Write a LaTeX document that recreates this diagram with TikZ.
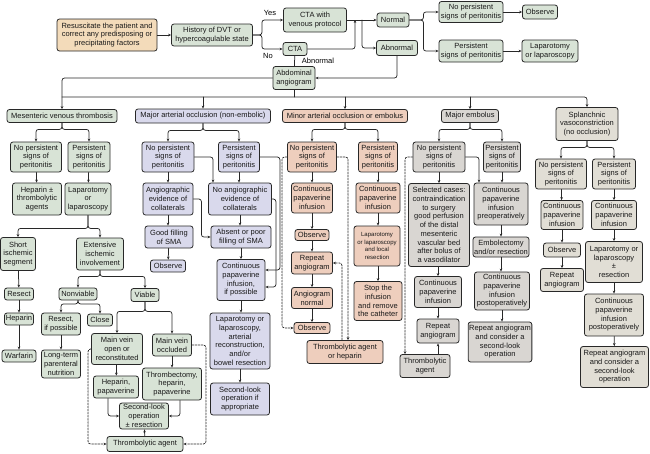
\documentclass[tikz,border=0pt]{standalone}
\usepackage{fontspec}
\setmainfont{Liberation Sans}
\usetikzlibrary{arrows.meta}
\definecolor{peach}{RGB}{243,219,186}
\definecolor{greenfill}{RGB}{216,227,214}
\definecolor{lavfill}{RGB}{217,217,236}
\definecolor{pinkfill}{RGB}{238,206,189}
\definecolor{grayfill}{RGB}{217,214,210}
\definecolor{sandfill}{RGB}{225,222,213}
\definecolor{boxline}{RGB}{40,40,40}
\begin{document}
\begin{tikzpicture}[x=1pt, y=-1pt, font=\fontsize{7.5}{8.7}\selectfont, line join=round, line cap=round,
    >={Stealth[length=3pt,width=2.6pt]},
    box/.style={draw=boxline, line width=0.8pt, rounded corners=2.5pt, align=center, inner sep=1pt, text=black!90},
    wh/.style 2 args={minimum width=#1, minimum height=#2},
    pbox/.style={box, fill=peach}, gbox/.style={box, fill=greenfill}, lbox/.style={box, fill=lavfill},
    rbox/.style={box, fill=pinkfill}, ebox/.style={box, fill=grayfill}, sbox/.style={box, fill=sandfill},
    conn/.style={->, draw=boxline, line width=0.75pt, rounded corners=2.5pt},
    dconn/.style={conn, dash pattern=on 1.8pt off 1.3pt}]
\useasboundingbox (0,0) rectangle (650,453);
% top of the chart
\node[pbox, wh={100}{32}] (resus) at (107,35) {Resuscitate the patient and\\correct any predisposing or\\precipitating factors};
\node[gbox, wh={81}{22}] (hist) at (212,35) {History of DVT or\\hypercoagulable state};
\node[gbox, wh={63}{24}] (ctav) at (315,20) {CTA with\\venous protocol};
\node[gbox, wh={24}{13}] (cta) at (295,49) {CTA};
\node[gbox, wh={42}{23}] (angio) at (294,78) {Abdominal\\angiogram};
\node[gbox, wh={32}{14}] (normal) at (393,20) {Normal};
\node[gbox, wh={41}{15}] (abn) at (397,48) {Abnormal};
\node[gbox, wh={64}{21}] (tnops) at (471,12) {No persistent\\signs of peritonitis};
\node[gbox, wh={64}{22}] (tps) at (471,51) {Persistent\\signs of peritonitis};
\node[gbox, wh={35}{14}] (tobs) at (540,12) {Observe};
\node[gbox, wh={56}{22}] (tlap) at (550,51) {Laparotomy\\or laparoscopy};
\node (yes) at (270,13) {Yes};
\node (no) at (268,56) {No};
\node (abnlab) at (318,61) {Abnormal};
\coordinate (j1) at (355,20);
\coordinate (j2) at (362,20);
\coordinate (bus) at (294,97);
\draw[conn] (resus) -- (hist);
\draw[conn] (hist.east) -- ++(9,0) |- (ctav.west);
\draw[conn] (hist.east) -- ++(9,0) |- (cta.west);
\draw[conn] (cta.east) -| (j1);
\draw[conn] (ctav) -- (normal);
\draw[conn] (j2) |- (abn.west);
\draw[conn] (abn.south) |- (angio.east);
\draw[line width=0.75pt, draw=boxline] (cta) -- (angio);
\draw[conn] (normal.east) -- ++(14,0) |- (tnops.west);
\draw[conn] (normal.east) -- ++(14,0) |- (tps.west);
\draw[conn] (tnops) -- (tobs);
\draw[conn] (tps) -- (tlap);
% five groups
\node[gbox, wh={110}{13}] (mvt) at (62,116) {Mesenteric venous thrombosis};
\node[lbox, wh={135}{14}] (mao) at (203,116) {Major arterial occlusion (non-embolic)};
\node[rbox, wh={125}{13}] (mio) at (345,116) {Minor arterial occlusion or embolus};
\node[ebox, wh={57}{13}] (mem) at (470,116) {Major embolus};
\node[sbox, wh={62}{33}] (spl) at (587,124) {Splanchnic\\vasoconstriction\\(no occlusion)};
\draw[conn] (angio.west) -| (mvt.north);
\draw[line width=0.75pt, draw=boxline] (angio.south) -- (bus);
\draw[conn] (mvt.north |- bus) -| (spl.north);
\foreach \n in {mao,mio,mem} \draw[conn] (\n.north |- bus) -- (\n.north);
% mesenteric venous thrombosis
\node[gbox, wh={51}{30}] (mvnops) at (36,157) {No persistent\\signs of\\peritonitis};
\node[gbox, wh={42}{30}] (mvps) at (89,157) {Persistent\\signs of\\peritonitis};
\node[gbox, wh={49}{32}] (mvhep) at (37,199) {Heparin ±\\thrombolytic\\agents};
\node[gbox, wh={46}{32}] (mvlap) at (88,199) {Laparotomy\\or\\laparoscopy};
\node[gbox, wh={35}{33}] (mvshort) at (18,254) {Short\\ischemic\\segment};
\node[gbox, wh={47}{32}] (mvext) at (100,254) {Extensive\\ischemic\\involvement};
\node[gbox, wh={29}{12}] (mvres) at (19,294) {Resect};
\node[gbox, wh={29}{12}] (mvhep2) at (19,319) {Heparin};
\node[gbox, wh={34}{12}] (mvwarf) at (19,356) {Warfarin};
\node[gbox, wh={38}{12}] (mvnonv) at (78,294) {Nonviable};
\node[gbox, wh={28}{13}] (mvviab) at (145,295) {Viable};
\node[gbox, wh={39}{22}] (mvrip) at (61,324) {Resect,\\if possible};
\node[gbox, wh={25}{12}] (mvclose) at (100,320) {Close};
\node[gbox, wh={39}{28}] (mvltpn) at (61,364) {Long-term\\parenteral\\nutrition};
\node[gbox, wh={51}{31}] (mvopen) at (117,349) {Main vein\\open or\\reconstituted};
\node[gbox, wh={39}{22}] (mvocc) at (172,345) {Main vein\\occluded};
\node[gbox, wh={45}{22}] (mvhp) at (116,387) {Heparin,\\papaverine};
\node[gbox, wh={59}{32}] (mvthr) at (172,384) {Thrombectomy,\\heparin,\\papaverine};
\node[gbox, wh={49}{26}] (mvsec) at (144,416) {Second-look\\operation\\± resection};
\node[gbox, wh={76}{15}] (mvtla) at (145,444) {Thrombolytic agent};
\draw[conn] (mvt.south) -- ++(0,6.5) -| (mvnops.north);
\draw[conn] (mvt.south) -- ++(0,6.5) -| (mvps.north);
\draw[conn] (mvnops) -- (mvhep);
\draw[conn] (mvps) -- (mvlap);
\draw[conn] (mvlap.south) -- ++(0,13) -| (mvshort.north);
\draw[conn] (mvlap.south) -- ++(0,13) -| (mvext.north);
\draw[conn] (mvshort) -- (mvres);
\draw[conn] (mvres) -- (mvhep2);
\draw[conn] (mvhep2) -- (mvwarf);
\draw[conn] (mvext.south) -- ++(0,6) -| (mvnonv.north);
\draw[conn] (mvext.south) -- ++(0,6) -| (mvviab.north);
\draw[conn] (mvnonv.south) -- ++(0,3.5) -| (mvrip.north);
\draw[conn] (mvnonv.south) -- ++(0,3.5) -| (mvclose.north);
\draw[conn] (mvrip) -- (mvltpn);
\draw[conn] (mvviab.south) -- ++(0,9.5) -| (mvopen.north);
\draw[conn] (mvviab.south) -- ++(0,9.5) -| (mvocc.north);
\draw[conn] (mvopen) -- (mvhp);
\draw[conn] (mvocc) -- (mvthr);
\draw[conn] ([xshift=-8]mvhp.south) |- (mvsec.west);
\draw[conn] ([xshift=8]mvthr.south) |- (mvsec.east);
\draw[conn] (mvtla) -- (mvsec);
\draw[dconn] (mvopen.west) -- ++(-3,0) |- (mvtla.west);
\draw[dconn] (mvocc.east) -- ++(14,0) |- (mvtla.east);
% major arterial occlusion
\node[lbox, wh={52}{30}] (manops) at (168,157) {No persistent\\signs of\\peritonitis};
\node[lbox, wh={41}{30}] (maps) at (239,157) {Persistent\\signs of\\peritonitis};
\node[lbox, wh={50}{32}] (maang) at (168,199) {Angiographic\\evidence of\\collaterals};
\node[lbox, wh={63}{32}] (manoang) at (240,199) {No angiographic\\evidence of\\collaterals};
\node[lbox, wh={48}{22}] (magood) at (169,237) {Good filling\\of SMA};
\node[lbox, wh={60}{22}] (maabs) at (241,237) {Absent or poor\\filling of SMA};
\node[lbox, wh={35}{12}] (maobs) at (168,266) {Observe};
\node[lbox, wh={48}{41}] (macont) at (241,280) {Continuous\\papaverine\\infusion,\\if possible};
\node[lbox, wh={60}{56}] (malap) at (240,341) {Laparotomy or\\laparoscopy,\\arterial\\reconstruction,\\and/or\\bowel resection};
\node[lbox, wh={59}{32}] (masec) at (240,399) {Second-look\\operation if\\appropriate};
\draw[conn] (mao.south) -- ++(0,7) -| (manops.north);
\draw[conn] (mao.south) -- ++(0,7) -| (maps.north);
\draw[conn] (manops) -- (maang);
\draw[conn] (maang) -- (magood.north -| maang);
\draw[conn] (magood) -- (maobs);
\draw[conn] (manops.east) -| ([xshift=-27]manoang.north);
\draw[conn] (maps.south) -- (maps.south |- manoang.north);
\draw[conn] (maang.east) -- ++(8,0) |- (maabs.west);
\draw[conn] (manoang) -- (manoang |- maabs.north);
\draw[conn] (maabs) -- (macont);
\draw[conn] (macont) -- (macont |- malap.north);
\draw[conn] (malap) -- (masec);
\draw[conn] (maps.east) -- ++(20,0) |- ([yshift=10]macont.east);
\draw[conn] (manoang.east) -- ++(4,0) |- ([yshift=-7]macont.east);
% minor arterial occlusion or embolus
\node[rbox, wh={49}{30}] (minops) at (312,157) {No persistent\\signs of\\peritonitis};
\node[rbox, wh={39}{30}] (mips) at (378,157) {Persistent\\signs of\\peritonitis};
\node[rbox, wh={41}{30}] (micont) at (312,198) {Continuous\\papaverine\\infusion};
\node[rbox, wh={44}{30}] (micontb) at (378,198) {Continuous\\papaverine\\infusion};
\node[rbox, wh={34}{11}] (miobs) at (312,235) {Observe};
\node[rbox, wh={41}{22}] (mirep) at (312,263) {Repeat\\angiogram};
\node[rbox, wh={46}{40}, font=\fontsize{6}{7.4}\selectfont] (milap) at (377,246) {Laparotomy\\or laparoscopy\\and local\\resection};
\node[rbox, wh={41}{21}] (mianorm) at (312,298) {Angiogram\\normal};
\node[rbox, wh={36}{11}] (miobsb) at (312,328) {Observe};
\node[rbox, wh={48}{39}] (mistop) at (378,301) {Stop the\\infusion\\and remove\\the catheter};
\node[rbox, wh={76}{23}] (mitla) at (345,352) {Thrombolytic agent\\or heparin};
\draw[conn] (mio.south) -- ++(0,6.5) -| (minops.north);
\draw[conn] (mio.south) -- ++(0,6.5) -| (mips.north);
\draw[conn] (minops) -- (micont);
\draw[conn] (micont) -- (miobs);
\draw[conn] (miobs) -- (mirep);
\draw[conn] (mirep) -- (mianorm);
\draw[conn] (mianorm) -- (miobsb);
\draw[conn] (mips) -- (micontb);
\draw[conn] (micontb) -- (micontb |- milap.north);
\draw[conn] (milap.south -| micontb) -- (mistop);
\draw[dconn] (minops.west) -- ++(-5,0) |- (miobsb.west);
\draw[dconn] (minops.east) -| ([xshift=3]mitla.north);
\draw[dconn] ([xshift=-3]mitla.north) |- (mirep.east);
% major embolus
\node[ebox, wh={52}{30}] (menops) at (439,157) {No persistent\\signs of\\peritonitis};
\node[ebox, wh={37}{30}] (meps) at (502,157) {Persistent\\signs of\\peritonitis};
\node[ebox, wh={61}{83}] (mesel) at (439,225) {Selected cases:\\contraindication\\to surgery\\good perfusion\\of the distal\\mesenteric\\vascular bed\\after bolus of\\a vasodilator};
\node[ebox, wh={54}{42}] (mecpre) at (501,204) {Continuous\\papaverine\\infusion\\preoperatively};
\node[ebox, wh={56}{20}] (meemb) at (501,247) {Embolectomy\\and/or resection};
\node[ebox, wh={55}{38}] (mecpost) at (502,291) {Continuous\\papaverine\\infusion\\postoperatively};
\node[ebox, wh={63}{40}] (merepc) at (500,342) {Repeat angiogram\\and consider a\\second-look\\operation};
\node[ebox, wh={47}{31}] (mecont) at (438,292) {Continuous\\papaverine\\infusion};
\node[ebox, wh={42}{24}] (merep) at (438,331) {Repeat\\angiogram};
\node[ebox, wh={50}{23}] (metla) at (425,366) {Thrombolytic\\agent};
\draw[conn] (mem.south) -- ++(0,6.5) -| (menops.north);
\draw[conn] (mem.south) -- ++(0,6.5) -| (meps.north);
\draw[conn] (menops) -- (mesel);
\draw[conn] (mesel.south -| mecont) -- (mecont);
\draw[conn] (mecont) -- (merep);
\draw[conn] ([xshift=13]metla.north) -- (merep.south);
\draw[conn] (menops.east) -| ([xshift=-22]mecpre.north);
\draw[conn] (meps.south) -- (meps.south |- mecpre.north);
\draw[conn] (mecpre) -- (meemb);
\draw[conn] (meemb.south) -- (meemb.south |- mecpost.north);
\draw[conn] (mecpost.south) -- (mecpost.south |- merepc.north);
\draw[dconn] (menops.west) -| ([xshift=-20]metla.north);
% splanchnic vasoconstriction
\node[sbox, wh={51}{30}] (spnops) at (561,174) {No persistent\\signs of\\peritonitis};
\node[sbox, wh={43}{30}] (spps) at (614,174) {Persistent\\signs of\\peritonitis};
\node[sbox, wh={42}{29}] (spcont) at (562,215) {Continuous\\papaverine\\infusion};
\node[sbox, wh={45}{29}] (spcontb) at (614,215) {Continuous\\papaverine\\infusion};
\node[sbox, wh={37}{14}] (spobs) at (562,250) {Observe};
\node[sbox, wh={43}{23}] (sprep) at (562,280) {Repeat\\angiogram};
\node[sbox, wh={57}{41}] (splap) at (614,262) {Laparotomy or\\laparoscopy\\±\\resection};
\node[sbox, wh={59}{42}] (spcpost) at (614,315) {Continuous\\papaverine\\infusion\\postoperatively};
\node[sbox, wh={68}{41}] (sprepc) at (614.5,367) {Repeat angiogram\\and consider a\\second-look\\operation};
\draw[conn] (spl.south) -- ++(0,6.5) -| (spnops.north);
\draw[conn] (spl.south) -- ++(0,6.5) -| (spps.north);
\draw[conn] (spnops) -- (spcont);
\draw[conn] (spcont) -- (spobs);
\draw[conn] (spobs) -- (sprep);
\draw[conn] (spps) -- (spcontb);
\draw[conn] (spcontb) -- (splap);
\draw[conn] (splap) -- (spcpost);
\draw[conn] (spcpost) -- (sprepc);
\end{tikzpicture}
\end{document}
